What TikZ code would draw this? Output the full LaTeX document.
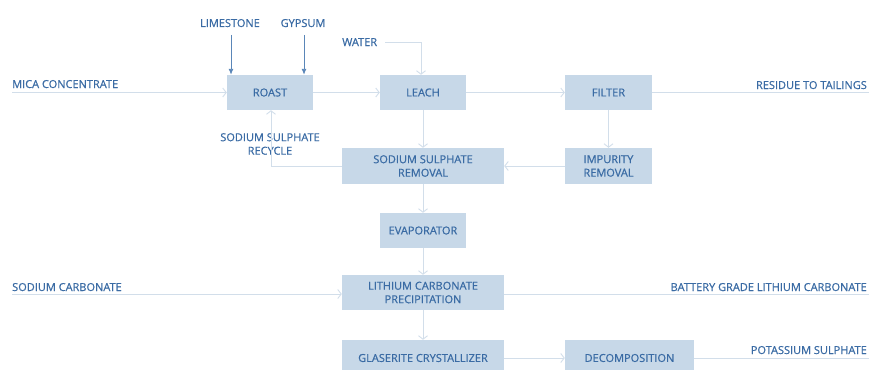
\documentclass[tikz,border=0pt]{standalone}
\usepackage{fontspec}
\setmainfont{Open Sans}
\newfontfamily\flowfont{Open Sans}[FakeBold=0.7]
\usetikzlibrary{arrows.meta}
\definecolor{txtblue}{HTML}{3A6BA4}
\definecolor{boxblue}{HTML}{C7D8E8}
\definecolor{flowgrey}{HTML}{D2DEEA}
\definecolor{feedblue}{HTML}{5A86B8}
\tikzset{
  font={\flowfont\fontsize{11pt}{13.5pt}\selectfont},
  unit/.style={fill=boxblue, text=txtblue, align=center, inner sep=0pt},
  lbl/.style={text=txtblue, inner sep=0pt, align=center},
  flow/.style={draw=flowgrey, line width=0.9pt, -{Straight Barb[length=3.5pt,width=9pt]}},
  plain/.style={draw=flowgrey, line width=0.9pt},
  feed/.style={draw=feedblue, line width=0.9pt, -{Latex[length=6pt,width=5pt]}}}

\begin{document}
\begin{tikzpicture}[x=1pt,y=-1pt]
\useasboundingbox (0,0) rectangle (869,369);
% process units
\node[unit, minimum width=86pt, minimum height=35pt] (roast) at (270,92.5) {ROAST};
\node[unit, minimum width=86pt, minimum height=35pt] (leach) at (423,92.5) {LEACH};
\node[unit, minimum width=87pt, minimum height=35pt] (filter) at (608.5,92.5) {FILTER};
\node[unit, minimum width=162pt, minimum height=36pt] (ssr) at (423,166) {SODIUM SULPHATE\\REMOVAL};
\node[unit, minimum width=87pt, minimum height=36pt] (impurity) at (608.5,166) {IMPURITY\\REMOVAL};
\node[unit, minimum width=86pt, minimum height=35pt] (evap) at (423,230.5) {EVAPORATOR};
\node[unit, minimum width=162pt, minimum height=35pt] (lcp) at (423,292.5) {LITHIUM CARBONATE\\PRECIPITATION};
\node[unit, minimum width=162pt, minimum height=36pt] (glaser) at (423,358) {GLASERITE CRYSTALLIZER};
\node[unit, minimum width=129pt, minimum height=36pt] (decomp) at (629.5,358) {DECOMPOSITION};

% stream labels
\node[lbl, anchor=base west] (mica) at (12,88) {MICA CONCENTRATE};
\node[lbl, anchor=base] (lime) at (230,27) {LIMESTONE};
\node[lbl, anchor=base] (gyp) at (303,27) {GYPSUM};
\node[lbl, anchor=base west] (water) at (342,46) {WATER};
\node[lbl, anchor=base east] (tail) at (867,89) {RESIDUE TO TAILINGS};
\node[lbl] (recycle) at (270,144) {SODIUM SULPHATE\\RECYCLE};
\node[lbl, anchor=base west] (soda) at (12,291) {SODIUM CARBONATE};
\node[lbl, anchor=base east] (batt) at (867,291) {BATTERY GRADE LITHIUM CARBONATE};
\node[lbl, anchor=base east] (potash) at (867,354) {POTASSIUM SULPHATE};

% free ends
\coordinate (micain) at (12,92.5);
\coordinate (limein) at (231,35);
\coordinate (gypin) at (304,35);
\coordinate (waterin) at (385,42);
\coordinate (tailout) at (869,92.5);
\coordinate (sodain) at (12,294);
\coordinate (battout) at (869,294);
\coordinate (potout) at (869,358);

% flows
\draw[flow] (micain) -- (roast.west);
\draw[feed] (limein) -- (limein |- roast.north);
\draw[feed] (gypin) -- (gypin |- roast.north);
\draw[flow] (waterin) -| ([xshift=-2pt]leach.north);
\draw[flow] (roast) -- (leach);
\draw[flow] (leach) -- (filter);
\draw[plain] (filter.east) -- (tailout);
\draw[flow] (leach) -- (ssr);
\draw[flow] (filter) -- (impurity);
\draw[flow] (impurity) -- (ssr);
\draw[flow] (ssr.west) -| ([xshift=1pt]roast.south);
\draw[flow] (ssr) -- (evap);
\draw[flow] (evap) -- (lcp);
\draw[flow] (sodain) -- (sodain -| lcp.west);
\draw[plain] (lcp.east |- battout) -- (battout);
\draw[flow] (lcp) -- (glaser);
\draw[flow] (glaser) -- (decomp);
\draw[plain] (decomp.east) -- (potout);
\end{tikzpicture}
\end{document}
